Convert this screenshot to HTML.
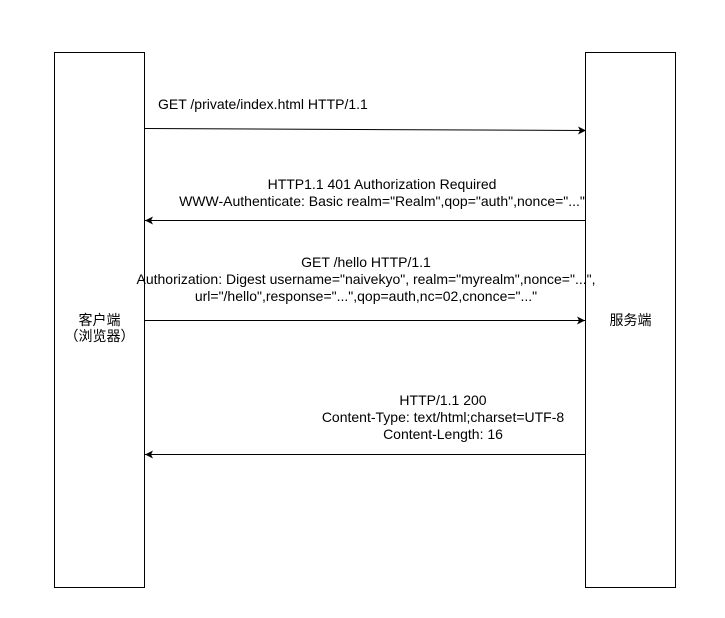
<!DOCTYPE html>
<html><head><meta charset="utf-8"><style>body{margin:0;background:#fff}svg{display:block}text{font-family:"Liberation Sans","Noto Sans CJK SC",sans-serif;font-size:14px;fill:#000}</style></head>
<body>
<svg width="725" height="618" viewBox="0 0 725 618">
<defs><marker id="a" markerWidth="10" markerHeight="10" refX="8" refY="4" orient="auto" markerUnits="userSpaceOnUse"><path d="M0,0 L8,4 L0,8 L2,4 Z" fill="#000"/></marker></defs>
<rect x="54.5" y="52.5" width="90" height="535" fill="#fff" stroke="#000"/>
<rect x="585.5" y="52.5" width="90" height="535" fill="#fff" stroke="#000"/>
<text x="99.5" y="325" text-anchor="middle">客户端</text>
<text x="99.5" y="341" text-anchor="middle">（浏览器）</text>
<text x="630.5" y="325" text-anchor="middle">服务端</text>
<g stroke="#000" fill="none">
<line x1="144.5" y1="128.5" x2="586" y2="130.5" marker-end="url(#a)"/>
<line x1="585" y1="220.5" x2="145" y2="220.5" marker-end="url(#a)"/>
<line x1="144.5" y1="320.5" x2="585" y2="320.5" marker-end="url(#a)"/>
<line x1="585" y1="454.5" x2="145" y2="454.5" marker-end="url(#a)"/>
</g>
<text x="158" y="109">GET /private/index.html HTTP/1.1</text>
<text x="382" y="189" text-anchor="middle">HTTP1.1 401 Authorization Required</text>
<text x="382" y="206" text-anchor="middle">WWW-Authenticate: Basic realm="Realm",qop="auth",nonce="..."</text>
<text x="366" y="267" text-anchor="middle">GET /hello HTTP/1.1</text>
<text x="366" y="284" text-anchor="middle">Authorization: Digest username="naivekyo", realm="myrealm",nonce="...",</text>
<text x="366" y="301" text-anchor="middle">url="/hello",response="...",qop=auth,nc=02,cnonce="..."</text>
<text x="443" y="405" text-anchor="middle">HTTP/1.1 200</text>
<text x="443" y="422" text-anchor="middle">Content-Type: text/html;charset=UTF-8</text>
<text x="443" y="439" text-anchor="middle">Content-Length: 16</text>
</svg>
</body></html>
